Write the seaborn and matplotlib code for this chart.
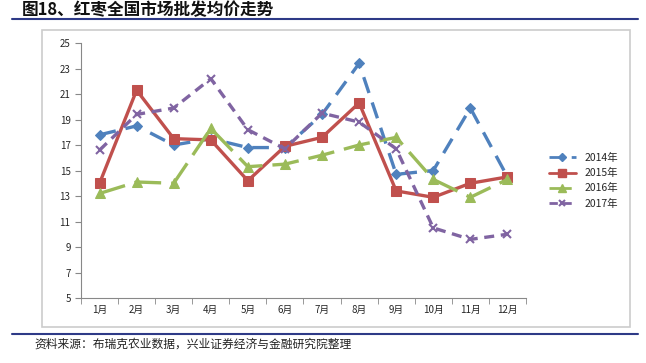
import matplotlib
matplotlib.use("Agg")
import matplotlib.pyplot as plt
import seaborn as sns
import pandas as pd
from matplotlib.patches import Rectangle
from matplotlib.lines import Line2D

months = ["1月", "2月", "3月", "4月", "5月", "6月", "7月", "8月", "9月", "10月", "11月", "12月"]
years = ["2014年", "2015年", "2016年", "2017年"]
p2014 = [17.8, 18.5, 17.0, 17.5, 16.8, 16.8, 19.4, 23.4, 14.7, 15.0, 19.9, 14.5]
p2015 = [14.0, 21.3, 17.5, 17.4, 14.2, 16.9, 17.6, 20.3, 13.4, 12.9, 14.0, 14.5]
p2016 = [13.2, 14.1, 14.0, 18.3, 15.3, 15.5, 16.2, 17.0, 17.6, 14.3, 12.9, 14.3]
p2017 = [16.6, 19.4, 19.9, 22.2, 18.2, 16.7, 19.5, 18.8, 16.7, 10.5, 9.6, 10.0]

sns.set_style("white")
plt.rcParams['font.family'] = ['Noto Sans CJK SC', 'DejaVu Sans']

colors = {"2014年": "#4F81BD", "2015年": "#C0504D", "2016年": "#9BBB59", "2017年": "#8064A2"}
markers = {"2014年": "D", "2015年": "s", "2016年": "^", "2017年": "x"}
dashes = {"2014年": (5, 3), "2015年": None, "2016年": (8, 3), "2017年": (3, 2)}
msize = {"2014年": 5, "2015年": 7, "2016年": 7, "2017年": 6}

fig = plt.figure(figsize=(6.46, 3.63), dpi=100)

# chart frame
fig.patches.append(Rectangle((0.065, 0.099), 0.910, 0.818, transform=fig.transFigure,
                             fill=False, edgecolor="#cccccc", linewidth=1.2))
# title and rules
fig.text(0.034, 0.973, "图18、红枣全国市场批发均价走势", fontsize=12, fontweight="bold",
         ha="left", va="center", color="#111111")
fig.add_artist(Line2D([0.019, 0.988], [0.948, 0.948], transform=fig.transFigure,
                      color="#2e3a87", linewidth=1.5))
fig.add_artist(Line2D([0.019, 0.988], [0.080, 0.080], transform=fig.transFigure,
                      color="#2e3a87", linewidth=1.5))
fig.text(0.054, 0.052, "资料来源：布瑞克农业数据，兴业证券经济与金融研究院整理", fontsize=8.5,
         ha="left", va="center", color="#222222")

ax = fig.add_axes([0.1254, 0.179, 0.6888, 0.7025])
handles = []
for yr, vals in zip(years, [p2014, p2015, p2016, p2017]):
    d = pd.DataFrame({"idx": range(12), "price": vals})
    kw = dict(color=colors[yr], marker=markers[yr], markersize=msize[yr],
              markeredgecolor=colors[yr], linewidth=2.4)
    if yr == "2017年":
        kw["markeredgewidth"] = 1.5
    if dashes[yr] is not None:
        kw["dashes"] = dashes[yr]
    sns.lineplot(data=d, x="idx", y="price", ax=ax, **kw)
    h = dict(kw)
    h["markersize"] = msize[yr] - 1
    h["linewidth"] = 2
    handles.append(Line2D([], [], **h))

ax.set_xlim(-0.5, 11.5)
ax.set_ylim(5, 25)
ax.set_yticks(range(5, 26, 2))
ax.set_xticks(range(12))
ax.set_xticklabels(months)
ax.set_xticks([i - 0.5 for i in range(13)], minor=True)
ax.tick_params(axis="x", which="major", length=0, labelsize=7, pad=5)
ax.tick_params(axis="x", which="minor", length=4, color="#888888", direction="out", bottom=True)
ax.tick_params(axis="y", length=4, color="#888888", direction="out", left=True, labelsize=7)
ax.set_xlabel("")
ax.set_ylabel("")
for s in ["top", "right"]:
    ax.spines[s].set_visible(False)
for s in ["left", "bottom"]:
    ax.spines[s].set_color("#888888")
    ax.spines[s].set_linewidth(0.8)

fig.legend(handles, years, loc="upper left", bbox_to_anchor=(0.835, 0.605), frameon=False,
           fontsize=7.5, handlelength=2.6, labelspacing=0.5)

fig.savefig("out.png", dpi=100)
